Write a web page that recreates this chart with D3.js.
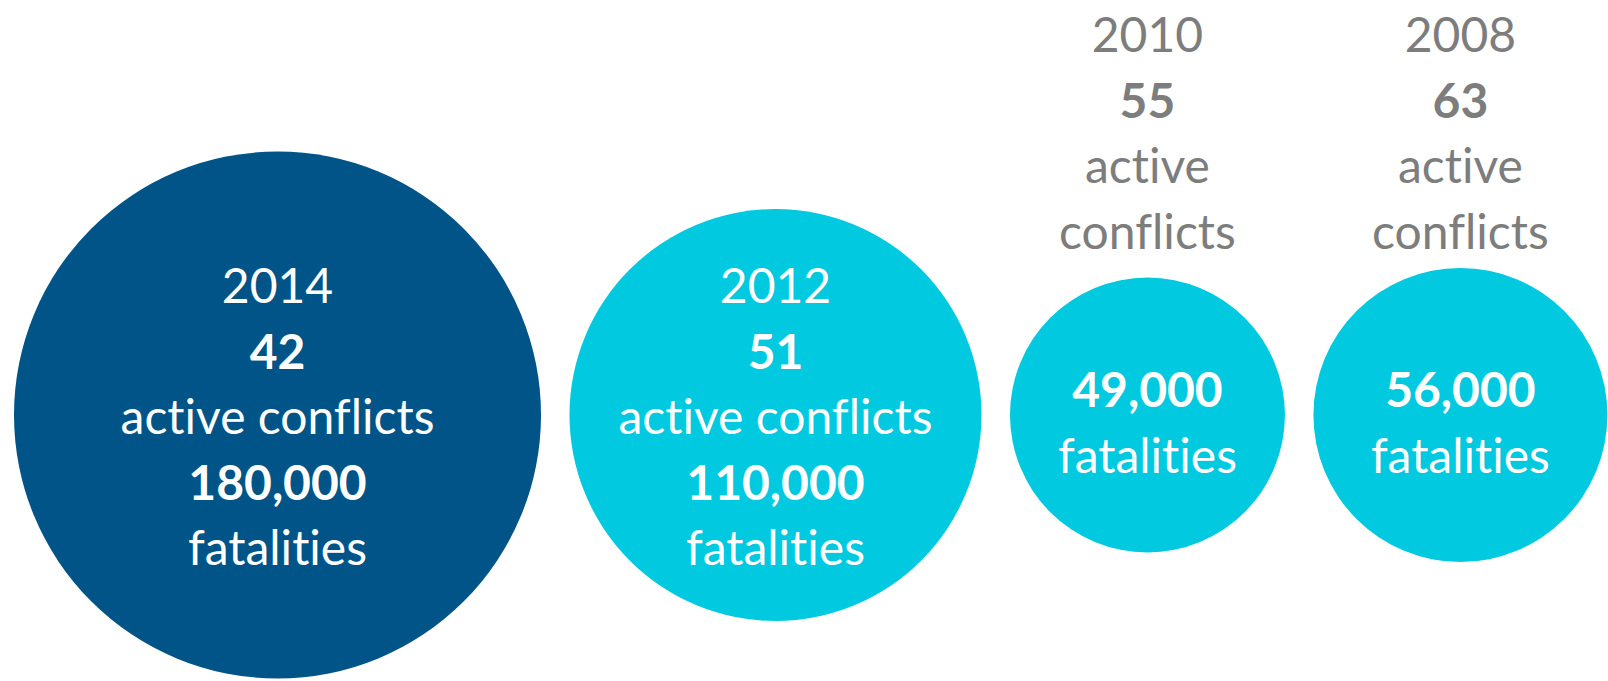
<!DOCTYPE html>
<html>
<head>
<meta charset="utf-8">
<script src="https://cdn.jsdelivr.net/npm/d3@7"></script>
<style>
  html, body { margin: 0; padding: 0; background: #ffffff; }
  svg { display: block; }
  text { font-family: Lato, "Open Sans", sans-serif; font-variant-ligatures: none; font-feature-settings: "liga" 0, "clig" 0; }
</style>
</head>
<body>
<svg id="chart" width="1608" height="681"></svg>
<script>
// ---- data ----
const years = ["2014", "2012", "2010", "2008"];
const activeConflicts = [42, 51, 55, 63];
const fatalities = [180000, 110000, 49000, 56000];
const highlightYear = "2014";

// ---- layout ----
const cy = 415;
const startX = 14;
const gap = 28.5;
const lineH = 65.5;
const fontSize = 48;

const svg = d3.select("#chart");

const r = d3.scaleSqrt()
  .domain([0, d3.max(fatalities)])
  .range([0, 263.5]);

const fmt = d3.format(",");

let x = startX;
const nodes = years.map((y, i) => {
  const rad = r(fatalities[i]);
  const cx = x + rad;
  x += 2 * rad + gap;
  return { year: y, conflicts: activeConflicts[i], fatalities: fatalities[i], r: rad, cx };
});

const colorDark = "#005487";
const colorLight = "#00C9E0";
const grey = "#7d7d7d";

const g = svg.selectAll("g.bubble")
  .data(nodes)
  .join("g")
  .attr("class", "bubble");

g.append("circle")
  .attr("cx", d => d.cx)
  .attr("cy", cy)
  .attr("r", d => d.r)
  .attr("fill", d => d.year === highlightYear ? colorDark : colorLight);

g.each(function(d) {
  const sel = d3.select(this);
  const inside = d.r > 180;
  let lines;
  if (inside) {
    lines = [
      { t: d.year, b: false, y: cy - 112, c: "#fff" },
      { t: String(d.conflicts), b: true, y: cy - 112 + lineH, c: "#fff" },
      { t: "active conflicts", b: false, y: cy - 112 + 2 * lineH, c: "#fff" },
      { t: fmt(d.fatalities), b: true, y: cy - 112 + 3 * lineH, c: "#fff" },
      { t: "fatalities", b: false, y: cy - 112 + 4 * lineH, c: "#fff" }
    ];
  } else {
    const top = 52;
    lines = [
      { t: d.year, b: false, y: top, c: grey },
      { t: String(d.conflicts), b: true, y: top + lineH, c: grey },
      { t: "active", b: false, y: top + 2 * lineH, c: grey },
      { t: "conflicts", b: false, y: top + 3 * lineH, c: grey },
      { t: fmt(d.fatalities), b: true, y: cy - 8, c: "#fff" },
      { t: "fatalities", b: false, y: cy - 8 + lineH, c: "#fff" }
    ];
  }
  sel.selectAll("text")
    .data(lines)
    .join("text")
    .attr("x", d.cx)
    .attr("y", l => l.y)
    .attr("text-anchor", "middle")
    .attr("font-size", fontSize)
    .attr("font-weight", l => l.b ? 700 : 400)
    .attr("fill", l => l.c)
    .text(l => l.t);
});
</script>
</body>
</html>
